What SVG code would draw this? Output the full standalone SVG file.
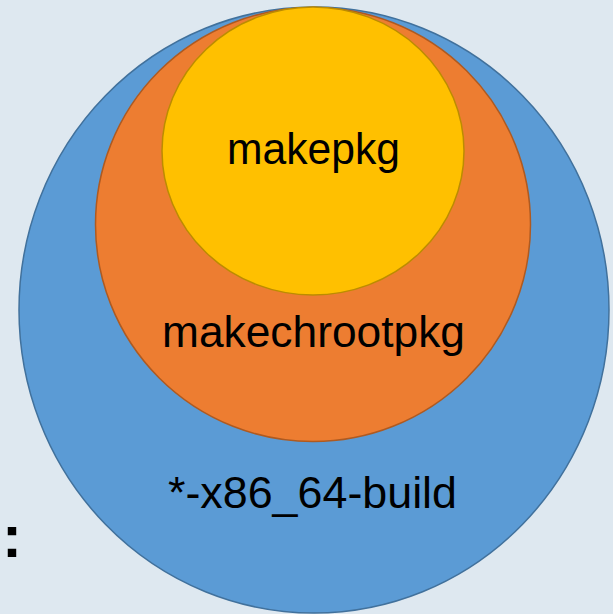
<svg xmlns="http://www.w3.org/2000/svg" width="613" height="614" viewBox="0 0 613 614">
<style>
.lbl{font-family:"Liberation Sans","Open Sans",Arial,sans-serif;font-size:44px;fill:#000;text-anchor:middle}
.c{stroke-width:1.5}
</style>
<rect width="613" height="614" fill="#dee8f0"/>
<g id="build">
<ellipse class="c" cx="314" cy="310" rx="295" ry="303" fill="#5b9bd5" stroke="#41719c"/>
<text class="lbl" x="312.5" y="508" textLength="289" lengthAdjust="spacingAndGlyphs">*-x86_64-build</text>
</g>
<g id="makechrootpkg">
<ellipse class="c" cx="313" cy="224.5" rx="217.5" ry="217" fill="#ed7d31" stroke="#ae5a21"/>
<text class="lbl" x="313.5" y="347" textLength="303" lengthAdjust="spacingAndGlyphs">makechrootpkg</text>
</g>
<g id="makepkg">
<ellipse class="c" cx="313" cy="151" rx="151" ry="144" fill="#ffc000" stroke="#bc8c00"/>
<text class="lbl" x="313.5" y="164" textLength="173" lengthAdjust="spacingAndGlyphs">makepkg</text>
</g>
<g id="colon">
<text x="12" y="557" style="font-family:'Liberation Sans',Arial,sans-serif;font-size:60px;font-weight:bold;text-anchor:middle">:</text>
</g>
<g id="connectors"/>
</svg>
